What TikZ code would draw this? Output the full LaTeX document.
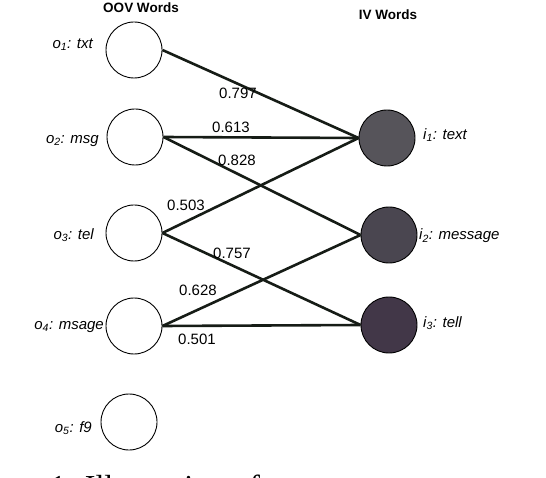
\documentclass[tikz,border=0pt]{standalone}
\usepackage{fontspec}
\setmainfont{Liberation Serif}
\setsansfont{Liberation Sans}
\definecolor{IVFirst}{RGB}{86,84,90}
\definecolor{IVSecond}{RGB}{74,70,80}
\definecolor{IVThird}{RGB}{66,55,72}
\definecolor{LinkDark}{RGB}{22,28,22}
\usetikzlibrary{positioning}

\begin{document}
\begin{tikzpicture}[x=1pt,y=-1pt,
  oov/.style={circle,draw,line width=0.9pt,minimum size=56pt,inner sep=0pt},
  iv/.style={oov,fill=#1},
  link/.style={LinkDark,line width=2.6pt},
  weight/.style={font=\sffamily\fontsize{15}{15}\selectfont,inner sep=0pt},
  word/.style={font=\sffamily\itshape\fontsize{15}{15}\selectfont,inner sep=0pt},
  head/.style={font=\sffamily\bfseries\fontsize{13.5}{13.5}\selectfont,inner sep=0pt}]
\useasboundingbox (0,0) rectangle (546,478);
% headings
\node[head] (hoov) at (141,8) {OOV Words};
\node[head] (hiv) at (388,15) {IV Words};
% OOV words
\node[oov] (o1) at (134,50) {};
\node[oov] (o2) at (135,137) {};
\node[oov] (o3) at (134,233) {};
\node[oov] (o4) at (134,326) {};
\node[oov] (o5) at (129,422) {};
\node[word,anchor=east] (lo1) at (93,45) {o\textsubscript{1}: txt};
\node[word,anchor=east] (lo2) at (99,141) {o\textsubscript{2}: msg};
\node[word,anchor=east] (lo3) at (94,235) {o\textsubscript{3}: tel};
\node[word,anchor=east] (lo4) at (104,327) {o\textsubscript{4}: msage};
\node[word,anchor=east] (lo5) at (92,428) {o\textsubscript{5}: f9};
% IV words
\node[iv=IVFirst] (i1) at (387,138) {};
\node[iv=IVSecond] (i2) at (389,235) {};
\node[iv=IVThird] (i3) at (389,325) {};
\node[word,anchor=west] (li1) at (423,135) {i\textsubscript{1}: text};
\node[word,anchor=west] (li2) at (419,236) {i\textsubscript{2}: message};
\node[word,anchor=west] (li3) at (423,323) {i\textsubscript{3}: tell};
% links
\draw[link] (o1.east) -- (i1.west);
\draw[link] (o2.east) -- (i1.west);
\draw[link] (o2.east) -- (i2.west);
\draw[link] (o3.east) -- (i1.west);
\draw[link] (o3.east) -- (i3.west);
\draw[link] (o4.east) -- (i2.west);
\draw[link] (o4.east) -- (i3.west);
% weights
\node[weight] (w1) at (238,93) {0.797};
\node[weight] (w2) at (231,127) {0.613};
\node[weight] (w3) at (237,160) {0.828};
\node[weight] (w4) at (186,205) {0.503};
\node[weight] (w5) at (232,253) {0.757};
\node[weight] (w6) at (198,290) {0.628};
\node[weight] (w7) at (197,339) {0.501};
% caption (cut off)
\node[anchor=base west,font=\fontsize{32}{32}\selectfont,inner sep=0pt] (cap) at (50,497) {1. Illustration of};
\end{tikzpicture}
\end{document}
